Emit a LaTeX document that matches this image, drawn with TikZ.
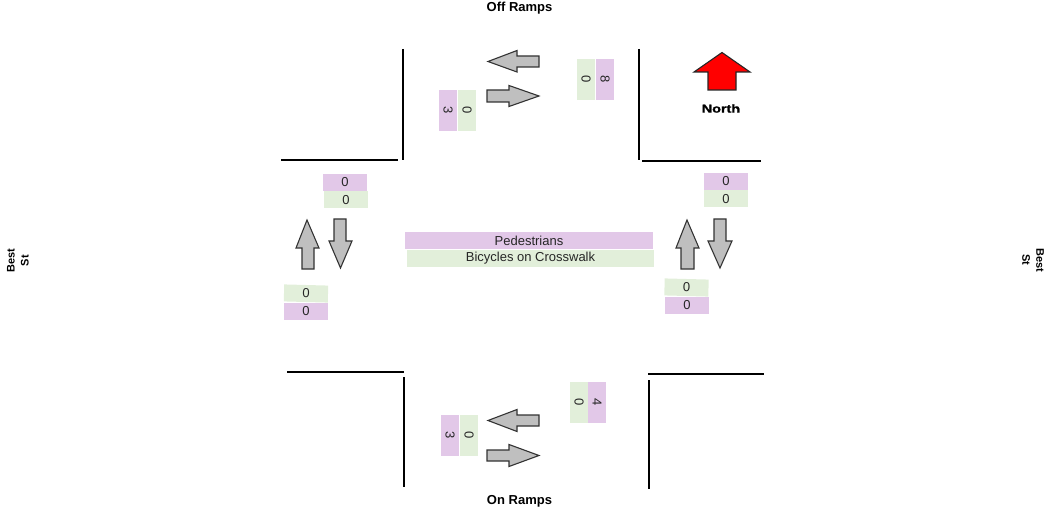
\documentclass[tikz,border=0pt]{standalone}
\usepackage{fontspec}
\setmainfont{Liberation Sans}
\newfontfamily\northfont[BoldFeatures={FakeBold=1.2}]{Liberation Sans}
\definecolor{cellpurple}{HTML}{E2C8E8}
\definecolor{cellgreen}{HTML}{E2EFDA}
\definecolor{arrowgray}{HTML}{BFBFBF}
\tikzset{
  cell/.style={inner sep=0pt,text=black!85,font=\fontsize{13}{14}\selectfont},
  purple cell/.style={cell,fill=cellpurple},
  green cell/.style={cell,fill=cellgreen},
  wide h/.style={minimum width=44pt,minimum height=17pt},
  tall v/.style={minimum width=41pt,minimum height=18pt,rotate=-90},
  curb/.style={draw=black,line width=2pt},
  traffic/.style={draw=black!80,line width=1.1pt,fill=arrowgray,line join=miter},
  heading/.style={inner sep=0pt,font=\bfseries\fontsize{13}{14}\selectfont,align=center},
  street/.style={inner sep=0pt,font=\bfseries\fontsize{11}{14}\selectfont,align=center}
}
\begin{document}
\begin{tikzpicture}[x=1pt,y=-1pt]
\useasboundingbox (0,0) rectangle (1047,513);
% curbs
\draw[curb] (402.7,49) -- (402.7,160);
\draw[curb] (281,160) -- (398,160);
\draw[curb] (639,49) -- (639,160);
\draw[curb] (642,161) -- (761,161);
\draw[curb] (287,372) -- (404,372);
\draw[curb] (403.7,377) -- (403.7,487);
\draw[curb] (648,374) -- (764,374);
\draw[curb] (648.7,380) -- (648.7,489);
% horizontal arrows
\draw[traffic] (488,61.5) -- (517,50.5) -- (517,56) -- (539,56) -- (539,67) -- (517,67) -- (517,72) -- cycle;
\draw[traffic] (539,96) -- (509,85.5) -- (509,90) -- (487,90) -- (487,102) -- (509,102) -- (509,106.5) -- cycle;
\draw[traffic] (488,420.5) -- (517,409.5) -- (517,415) -- (539,415) -- (539,426) -- (517,426) -- (517,431.5) -- cycle;
\draw[traffic] (539,455.5) -- (509,444.5) -- (509,450) -- (487,450) -- (487,461) -- (509,461) -- (509,466.5) -- cycle;
% vertical arrows
\draw[traffic] (307,220) -- (296,248) -- (302,248) -- (302,269) -- (314,269) -- (314,248) -- (319,248) -- cycle;
\draw[traffic] (340.5,268) -- (329,241) -- (334,241) -- (334,219) -- (346,219) -- (346,241) -- (352,241) -- cycle;
\draw[traffic] (687,220) -- (676,248) -- (681,248) -- (681,269) -- (694,269) -- (694,248) -- (699,248) -- cycle;
\draw[traffic] (720,268) -- (708,241) -- (714,241) -- (714,219) -- (726,219) -- (726,241) -- (732,241) -- cycle;
% north arrow
\draw[draw=black!85,line width=1.1pt,fill=red] (722,52.5) -- (694,72) -- (708,72) -- (708,90) -- (736,90) -- (736,72) -- (750,72) -- cycle;
% counts
\node[purple cell,tall v] (offP) at (448,110.5) {3};
\node[green cell,tall v] (offG) at (467,110.5) {0};
\node[green cell,tall v] (offG2) at (586,79.5) {0};
\node[purple cell,tall v] (offP2) at (605,79.5) {8};
\node[purple cell,wide h] (wP) at (345,182.5) {0};
\node[green cell,wide h] (wG) at (346,200) {0};
\node[purple cell,wide h] (eP) at (726,181.5) {0};
\node[green cell,wide h] (eG) at (726,199) {0};
\node[green cell,wide h,rotate=-1.5] (wG2) at (306,293.5) {0};
\node[purple cell,wide h] (wP2) at (306,311.5) {0};
\node[green cell,wide h,rotate=-1.5] (eG2) at (686.5,287.5) {0};
\node[purple cell,wide h] (eP2) at (687,305.5) {0};
\node[purple cell,tall v] (onP) at (450,435.5) {3};
\node[green cell,tall v] (onG) at (469,435.5) {0};
\node[green cell,tall v] (onG2) at (579,402.5) {0};
\node[purple cell,tall v] (onP2) at (597,402.5) {4};
\node[purple cell,minimum width=248pt,minimum height=17pt] (ped) at (529,240.5) {Pedestrians};
\node[green cell,minimum width=247pt,minimum height=17pt] (bik) at (530.5,258.5) {Bicycles on Crosswalk};
% headings
\node[heading] (off) at (519.5,8.5) {Off Ramps};
\node[heading] (on) at (519.5,501) {On Ramps};
\node[inner sep=0pt,font=\northfont\bfseries\fontsize{11.5}{12}\selectfont,xscale=1.25] (north) at (721,108.5) {North};
\node[street,rotate=90] (bw) at (18,260.5) {Best\\St};
\node[street,rotate=-90] (be) at (1033,260) {Best\\St};
\end{tikzpicture}
\end{document}
